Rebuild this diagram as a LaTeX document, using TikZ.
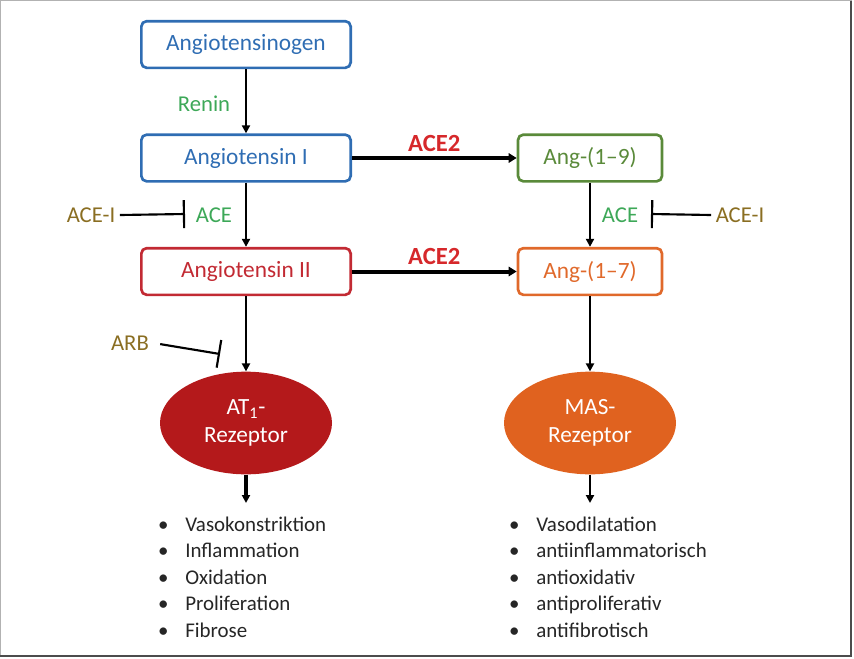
\documentclass[tikz,border=0pt]{standalone}
\usepackage{fontspec}
\setmainfont{Carlito}
\usetikzlibrary{positioning, arrows.meta, shapes.geometric}

\definecolor{AgenBlue}{HTML}{2F6DB3}
\definecolor{EnzGreen}{HTML}{3DA858}
\definecolor{AceTwoRed}{HTML}{D6282B}
\definecolor{AngTwoRed}{HTML}{C22A33}
\definecolor{NineGreen}{HTML}{5A8A3A}
\definecolor{SevenOrange}{HTML}{E0692B}
\definecolor{InhibOlive}{HTML}{8A6E22}
\definecolor{AtRed}{HTML}{B4191B}
\definecolor{MasOrange}{HTML}{E0621F}

\begin{document}
\begin{tikzpicture}[x=0.75pt, y=-0.75pt,
					AngBox/.style={draw, rounded corners=4pt, line width=2pt, minimum width=157pt, minimum height=35pt, inner sep=0pt, font=\fontsize{17.5}{20}\selectfont},
					SmallBox/.style={AngBox, minimum width=108pt},
					Receptor/.style={ellipse, inner sep=0pt, minimum width=129pt, minimum height=77pt, text=white, align=center, font=\fontsize{17.4}{20}\selectfont},
					Enzyme/.style={text=EnzGreen, font=\fontsize{17}{20}\selectfont},
					Inhibitor/.style={text=InhibOlive, font=\fontsize{17}{20}\selectfont},
					EnzTwo/.style={text=AceTwoRed, font=\fontsize{18.5}{20}\selectfont\bfseries},
					Flow/.style={line width=1.6pt, -{Triangle[length=6pt, width=6pt]}},
					BigFlow/.style={line width=3pt, -{Triangle[length=6pt, width=7pt]}},
					Block/.style={line width=1.6pt, -{Bar[width=21pt, line width=1.6pt]}},
					ListItem/.style={anchor=base west, inner sep=0pt, text=black!85, font=\fontsize{15.7}{18}\selectfont}]

				\useasboundingbox (0,0) rectangle (854,658);
				% Frame
				\draw[black!30, line width=1pt] (0.5,657) -- (0.5,0.5) -- (852,0.5);
				\draw[black!70, line width=1.5pt] (851,0.5) -- (851,656) -- (0.5,656);

				% Nodes
				\node[AngBox, draw=AgenBlue, text=AgenBlue] (Agen) at (246,44.5) {Angiotensinogen};
				\node[AngBox, draw=AgenBlue, text=AgenBlue] (AngI) at (246,158) {Angiotensin I};
				\node[AngBox, draw=AngTwoRed, text=AngTwoRed] (AngII) at (246,271.5) {Angiotensin II};
				\node[SmallBox, draw=NineGreen, text=NineGreen] (AngNine) at (590,158) {Ang-(1--9)};
				\node[SmallBox, draw=SevenOrange, text=SevenOrange] (AngSeven) at (590,271.5) {Ang-(1--7)};
				\node[Receptor, fill=AtRed] (AtRec) at (246,423) {\raisebox{-4pt}{AT\textsubscript{1}-}\\[1pt]\raisebox{-4pt}{Rezeptor}};
				\node[Receptor, fill=MasOrange] (MasRec) at (590,423) {\raisebox{-4pt}{MAS-}\\[1pt]\raisebox{-4pt}{Rezeptor}};

				\node[Enzyme] (Renin) at (204,104) {Renin};
				\node[Enzyme] (AceL) at (214,215) {ACE};
				\node[Enzyme] (AceR) at (620,215) {ACE};
				\node[Inhibitor] (AceIL) at (91,215) {ACE-I};
				\node[Inhibitor] (AceIR) at (740,215) {ACE-I};
				\node[Inhibitor] (Arb) at (130,343) {ARB};

				\coordinate (BlockL) at (185,214);
				\coordinate (BlockR) at (651,214);
				\coordinate (BlockArb) at (220,354);
				\coordinate (AtOut) at (246,503);
				\coordinate (MasOut) at (590,503);

				% Lines
				\draw[Flow] (Agen) to (AngI);
				\draw[Flow] (AngI) to (AngII);
				\draw[Flow] (AngII) to (AtRec);
				\draw[Flow] (AngNine) to (AngSeven);
				\draw[Flow] (AngSeven) to (MasRec);
				\draw[BigFlow] (AngI) to node[above=0pt, EnzTwo] {ACE2} (AngNine);
				\draw[BigFlow] (AngII) to node[above=0pt, EnzTwo] {ACE2} (AngSeven);
				\draw[Flow, line width=2.4pt] (AtRec) to (AtOut);
				\draw[Flow] (MasRec) to (MasOut);

				\draw[Block] (AceIL.east) to (BlockL);
				\draw[Block] (AceIR.west) to (BlockR);
				\draw[Block, shorten <=5pt] (Arb.east) to (BlockArb);

				% Effects
				\foreach \txt [count=\i] in {Vasokonstriktion, Inflammation, Oxidation, Proliferation, Fibrose}
					\node[ListItem] (AtItem\i) at (185,{531+26.5*(\i-1)}) {\llap{\textbullet\hspace{12.5pt}}\txt};
				\foreach \txt [count=\i] in {Vasodilatation, antiinflammatorisch, antioxidativ, antiproliferativ, antifibrotisch}
					\node[ListItem] (MasItem\i) at (536,{531+26.5*(\i-1)}) {\llap{\textbullet\hspace{12.5pt}}\txt};
			\end{tikzpicture}
\end{document}
